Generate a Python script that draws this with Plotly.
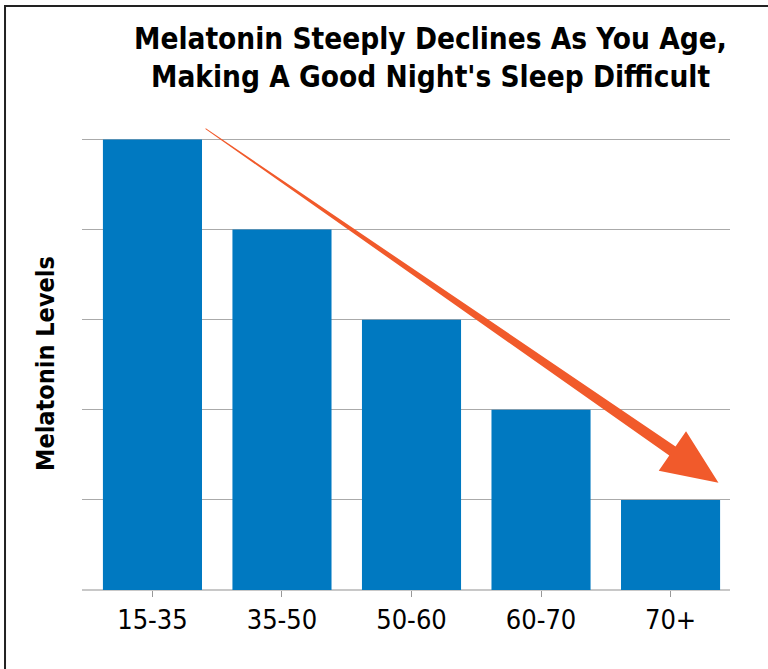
import plotly.graph_objects as go

# ---- data ----
age_groups = ["15-35", "35-50", "50-60", "60-70", "70+"]
melatonin_levels = [5, 4, 3, 2, 1]
title_lines = ["Melatonin Steeply Declines As You Age,",
               "Making A Good Night's Sleep Difficult"]
y_title = "Melatonin Levels"
# arrow (data coordinates: category index, level)
arrow_start = (0.41, 5.12)
arrow_tip = (4.37, 1.19)

# ---- layout geometry ----
W, H = 768, 669
ML, MR, MT, MB = 82, 38, 126, 79
PW, PH = W - ML - MR, H - MT - MB
X_RANGE = [-0.544, 4.459]
Y_RANGE = [0, 5.15]
BAR = "#0079C1"
ORANGE = "#F15A2B"
NARROW = "DejaVu Sans Condensed, Liberation Sans Narrow, Arial Narrow, sans-serif"

kx = PW / (X_RANGE[1] - X_RANGE[0])
ky = PH / (Y_RANGE[1] - Y_RANGE[0])


def px_x(px):
    return (px - ML) / PW


def px_y(py):
    return (H - MB - py) / PH


def d2p(x, y):
    return (ML + (x - X_RANGE[0]) * kx, H - MB - (y - Y_RANGE[0]) * ky)


def p2d(px, py):
    return (X_RANGE[0] + (px - ML) / kx, Y_RANGE[0] + (H - MB - py) / ky)


xs = list(range(len(age_groups)))
fig = go.Figure(go.Bar(x=xs, y=melatonin_levels, width=0.765,
                       marker=dict(color=BAR, line=dict(width=0)),
                       hoverinfo="skip"))

# tapered arrow polygon computed in pixel space then mapped to data
sx, sy = d2p(*arrow_start)
tx, ty = d2p(*arrow_tip)
dx, dy = tx - sx, ty - sy
L = (dx ** 2 + dy ** 2) ** 0.5
ux, uy = dx / L, dy / L
nx, ny = -uy, ux
head_len, head_half, shaft_half, start_half = 56, 24, 5.5, 0.4
bx, by = tx - ux * head_len, ty - uy * head_len
pts_px = [
    (sx + nx * start_half, sy + ny * start_half),
    (bx + nx * shaft_half, by + ny * shaft_half),
    (bx + nx * head_half, by + ny * head_half),
    (tx, ty),
    (bx - nx * head_half, by - ny * head_half),
    (bx - nx * shaft_half, by - ny * shaft_half),
    (sx - nx * start_half, sy - ny * start_half),
]
pts = [p2d(*p) for p in pts_px]
path = "M " + " L ".join(f"{x:.4f},{y:.4f}" for x, y in pts) + " Z"
fig.add_shape(type="path", path=path, xref="x", yref="y",
              fillcolor=ORANGE, line=dict(width=0), layer="above")

# frame lines (top and left)
fig.add_shape(type="path", xref="paper", yref="paper",
              path=f"M {px_x(5):.4f},{px_y(H + 5):.4f} L {px_x(5):.4f},{px_y(6):.4f} L {px_x(W + 5):.4f},{px_y(6):.4f}",
              line=dict(color="#222222", width=2))

# title lines
for line, cy in zip(title_lines, [39, 77]):
    fig.add_annotation(text=f"<b>{line}</b>", xref="paper", yref="paper",
                       x=px_x(431), y=px_y(cy), xanchor="center", yanchor="middle",
                       showarrow=False, font=dict(family=NARROW, size=29.5, color="#000"))

fig.add_annotation(text=f"<b>{y_title}</b>", xref="paper", yref="paper",
                   x=px_x(45), y=px_y(364), xanchor="center", yanchor="middle",
                   textangle=-90, showarrow=False,
                   font=dict(family=NARROW, size=25, color="#000"))

fig.update_layout(
    width=W, height=H,
    margin=dict(l=ML, r=MR, t=MT, b=MB, pad=0),
    paper_bgcolor="white", plot_bgcolor="white",
    showlegend=False,
    xaxis=dict(range=X_RANGE, tickvals=xs, ticktext=age_groups,
               ticks="outside", ticklen=6, tickcolor="#999999", tickwidth=1,
               showgrid=False, zeroline=False, showline=False,
               tickfont=dict(family=NARROW, size=27, color="#000")),
    yaxis=dict(range=Y_RANGE, dtick=1, showticklabels=False,
               showgrid=True, gridcolor="#aaaaaa", gridwidth=1,
               zeroline=True, zerolinecolor="#c8c8c8", zerolinewidth=2,
               showline=False, ticks=""),
)

fig.write_html("out.html", config={"displayModeBar": False},
               post_script="document.body.style.margin='0';")
